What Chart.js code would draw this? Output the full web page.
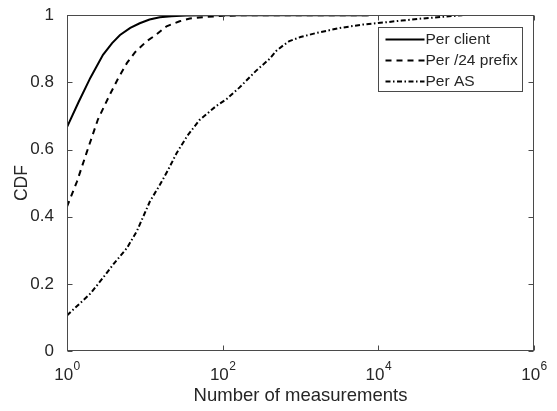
<!DOCTYPE html>
<html>
<head>
<meta charset="utf-8">
<script src="https://cdn.jsdelivr.net/npm/chart.js@4.4.0/dist/chart.umd.min.js"></script>
<style>
  html, body { margin: 0; padding: 0; background: #fff; }
  #wrap { width: 557px; height: 411px; }
</style>
</head>
<body>
<div id="wrap"><canvas id="cdf" width="557" height="411"></canvas></div>
<script>
const clientX = [1, 1.4, 2, 2.9, 3.8, 4.8, 6.5, 8.6, 11.5, 15.6, 22, 34, 60, 100, 7600];
const clientY = [0.667, 0.74, 0.814, 0.882, 0.917, 0.941, 0.962, 0.976, 0.987, 0.994, 0.997, 0.999, 1.0, 1.0, 1.0];

const prefixX = [1, 1.34, 1.8, 2.5, 3.56, 4.5, 5.9, 7.5, 10.6, 14, 19, 28, 38, 60, 100, 200, 7600];
const prefixY = [0.43, 0.504, 0.593, 0.69, 0.764, 0.81, 0.858, 0.89, 0.923, 0.942, 0.967, 0.982, 0.99, 0.995, 0.998, 1.0, 1.0];

const asX = [1, 2, 2.9, 4, 5.9, 7.9, 11.6, 15.6, 20, 25.7, 35, 50, 83, 112, 165, 270, 400, 490, 600, 720, 1000, 1600, 3200, 6300, 9400, 20000, 36000, 120000];
const asY = [0.106, 0.171, 0.218, 0.26, 0.307, 0.357, 0.445, 0.495, 0.54, 0.59, 0.64, 0.687, 0.73, 0.75, 0.785, 0.835, 0.87, 0.894, 0.91, 0.923, 0.935, 0.947, 0.962, 0.972, 0.976, 0.984, 0.99, 1.0];

const seriesLabels = ['Per client', 'Per /24 prefix', 'Per AS'];
const xTickValues = [1, 100, 10000, 1000000];
const xTickExps = ['0', '2', '4', '6'];
const yTickValues = [0, 0.2, 0.4, 0.6, 0.8, 1];
const yTickLabels = ['0', '0.2', '0.4', '0.6', '0.8', '1'];

const FONT = "'Liberation Sans', Arial, Helvetica, sans-serif";
const TEXT = '#262626';
const AXIS = '#4a4a4a';
Chart.defaults.font.family = FONT;
Chart.defaults.color = TEXT;

const toPts = (xs, ys) => xs.map((x, i) => ({ x: x, y: ys[i] }));

// box, inward ticks, x tick labels with exponents, legend
const matlabAxes = {
  id: 'matlabAxes',
  afterDraw(chart) {
    const ctx = chart.ctx;
    const { left, right, top, bottom } = chart.chartArea;
    const xs = chart.scales.x, ys = chart.scales.y;
    const L = Math.round(left) + 0.5, R = Math.round(right) - 0.5;
    const T = Math.round(top) + 0.5, B = Math.round(bottom) - 0.5;
    const tl = 5;
    ctx.save();
    ctx.strokeStyle = AXIS;
    ctx.lineWidth = 1;
    ctx.setLineDash([]);
    ctx.strokeRect(L, T, R - L, B - T);
    ctx.beginPath();
    xTickValues.forEach(v => {
      const px = Math.round(xs.getPixelForValue(v)) + 0.5;
      ctx.moveTo(px, B); ctx.lineTo(px, B - tl);
      ctx.moveTo(px, T); ctx.lineTo(px, T + tl);
    });
    yTickValues.forEach(v => {
      const py = Math.round(ys.getPixelForValue(v)) + 0.5;
      ctx.moveTo(L, py); ctx.lineTo(L + tl, py);
      ctx.moveTo(R, py); ctx.lineTo(R - tl, py);
    });
    ctx.stroke();

    // x tick labels: "10" with raised exponent
    ctx.fillStyle = TEXT;
    ctx.textBaseline = 'alphabetic';
    ctx.textAlign = 'left';
    xTickValues.forEach((v, i) => {
      const px = xs.getPixelForValue(v);
      ctx.font = '17px ' + FONT;
      const wb = ctx.measureText('10').width;
      ctx.font = '12px ' + FONT;
      const we = ctx.measureText(xTickExps[i]).width;
      const x0 = px - (wb + we) / 2;
      ctx.font = '17px ' + FONT;
      ctx.fillText('10', x0, bottom + 29);
      ctx.font = '12px ' + FONT;
      ctx.fillText(xTickExps[i], x0 + wb + 0.5, bottom + 19);
    });

    // legend
    const bw = 144, bh = 64;
    const bx = Math.round(right) - 12 - bw + 0.5, by = Math.round(top) + 12 + 0.5;
    ctx.fillStyle = '#fff';
    ctx.fillRect(bx, by, bw, bh);
    ctx.strokeStyle = AXIS;
    ctx.lineWidth = 1;
    ctx.strokeRect(bx, by, bw, bh);
    ctx.font = '15.5px ' + FONT;
    ctx.textBaseline = 'middle';
    chart.data.datasets.forEach((ds, i) => {
      const yy = by + 12 + i * 21;
      ctx.strokeStyle = ds.borderColor;
      ctx.lineWidth = ds.borderWidth;
      ctx.setLineDash(ds.borderDash || []);
      ctx.beginPath();
      ctx.moveTo(bx + 7, yy); ctx.lineTo(bx + 46, yy);
      ctx.stroke();
      ctx.fillStyle = TEXT;
      ctx.fillText(ds.label, bx + 47, yy);
    });
    ctx.restore();
  }
};

new Chart(document.getElementById('cdf').getContext('2d'), {
  type: 'line',
  data: {
    datasets: [
      { label: seriesLabels[0], data: toPts(clientX, clientY), borderColor: '#000', borderWidth: 2, borderDash: [] },
      { label: seriesLabels[1], data: toPts(prefixX, prefixY), borderColor: '#000', borderWidth: 2, borderDash: [6, 5] },
      { label: seriesLabels[2], data: toPts(asX, asY), borderColor: '#000', borderWidth: 2, borderDash: [5, 2.5, 1.5, 2.5] }
    ]
  },
  options: {
    responsive: false,
    animation: false,
    events: [],
    layout: { padding: { top: 12, right: 23, left: 0, bottom: 0 } },
    elements: { point: { radius: 0 }, line: { tension: 0, fill: false } },
    plugins: { legend: { display: false }, tooltip: { enabled: false } },
    scales: {
      x: {
        type: 'logarithmic', min: 1, max: 1000000,
        grid: { display: false }, border: { display: false },
        ticks: { display: false },
        afterBuildTicks: s => { s.ticks = xTickValues.map(v => ({ value: v })); },
        afterFit: s => { s.height = 60; },
        title: { display: true, text: 'Number of measurements', color: TEXT,
                 font: { size: 18.5 }, padding: { top: 0, bottom: 4 } }
      },
      y: {
        min: 0, max: 1,
        grid: { display: false }, border: { display: false },
        afterBuildTicks: s => { s.ticks = yTickValues.map(v => ({ value: v })); },
        ticks: { color: TEXT, font: { size: 17 }, padding: 5,
                 callback: (v, i) => yTickLabels[i] },
        afterFit: s => { s.width = 67; },
        title: { display: true, text: 'CDF', color: TEXT,
                 font: { size: 17.5 }, padding: { top: 12, bottom: 0 } }
      }
    }
  },
  plugins: [matlabAxes]
});
</script>
</body>
</html>
